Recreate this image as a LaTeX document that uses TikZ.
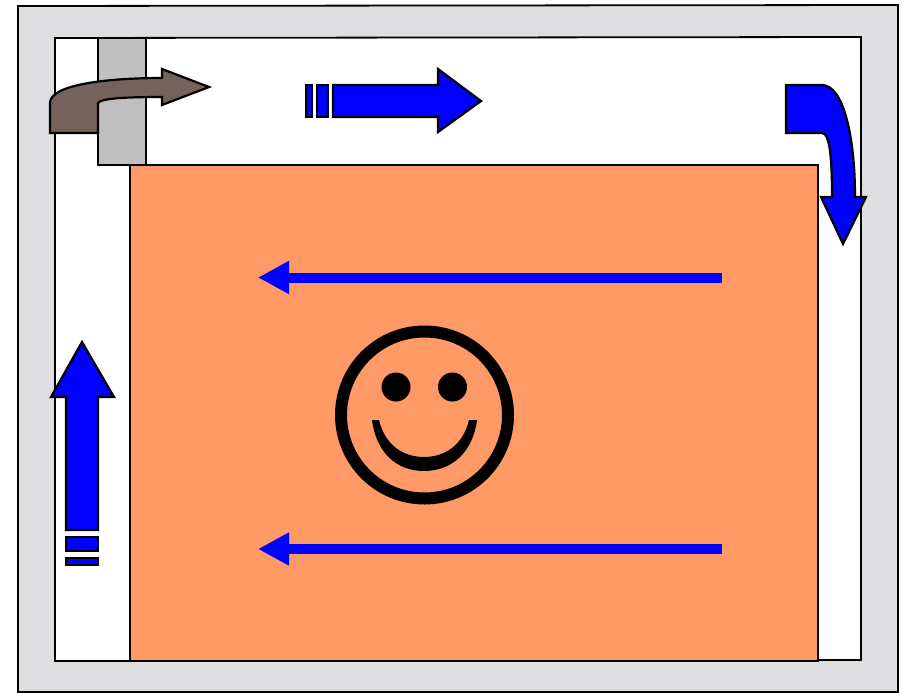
\documentclass[tikz,border=0pt]{standalone}
\usepackage{xcolor}
\usepackage{tikz}
\usetikzlibrary{arrows.meta}
\definecolor{frame}{HTML}{DEDEE1}
\definecolor{post}{HTML}{C0C0C0}
\definecolor{room}{HTML}{FF9966}
\definecolor{door}{HTML}{75625A}
\definecolor{flow}{HTML}{0000FF}
\tikzset{
  plate/.style={draw=black, line width=1.8pt, line join=miter},
  flowpart/.style={plate, line width=2.2pt, fill=flow},
  longflow/.style={-{Triangle[length=31pt,width=31pt]}, line width=10pt, flow},
}

\begin{document}
\begin{tikzpicture}[x=1pt,y=-1pt]
\useasboundingbox (0,0) rectangle (902,693);

% --- Walls ---
\draw[plate, fill=frame] (18,6) -- (898,5) -- (898,692) -- (18,692) -- cycle;
\draw[plate, fill=white] (55,38) -- (861,37) -- (861,660) -- (55,661) -- cycle;
\draw[plate, fill=post] (98,38) rectangle (146,165);
\draw[plate, fill=room] (130,165) rectangle (818,661);

% Brown arrow through the post
\draw[flowpart, fill=door] (50,133) -- (98,133) -- (98,103)
  .. controls (101,98) and (130,97) .. (162,97)
  -- (162,105) -- (209,87) -- (162,69) -- (162,78)
  .. controls (110,78) and (50,84) .. (50,103) -- cycle;

% Top arrow with dashes
\draw[flowpart] (306,85) rectangle (312,117);
\draw[flowpart] (317,85) rectangle (328,117);
\draw[flowpart] (333,85) -- (438,85) -- (438,69) -- (481,101)
  -- (438,132) -- (438,117) -- (333,117) -- cycle;

% Bent arrow, right side
\draw[flowpart] (786,85) -- (822,85)
  .. controls (843,85) and (855,135) .. (855,197)
  -- (866,197) -- (843,244) -- (821,197) -- (832,197)
  .. controls (832,160) and (830,133) .. (822,133)
  -- (786,133) -- cycle;

% Left arrow with dashes
\draw[flowpart] (82,342) -- (114,397) -- (98,397) -- (98,530)
  -- (66,530) -- (66,397) -- (51,397) -- cycle;
\draw[flowpart] (66,537) rectangle (98,551);
\draw[flowpart] (66,558) rectangle (98,565);

% --- Long arrows across the room ---
\coordinate (upperstart) at (722,277.5);
\coordinate (upperend) at (258,277.5);
\coordinate (lowerstart) at (722,549);
\coordinate (lowerend) at (258,549);
\draw[longflow] (upperstart) -- (upperend);
\draw[longflow] (lowerstart) -- (lowerend);

% --- Smiley ---
\draw[black, line width=12pt] (424.5,415) circle (83.5);
\fill[black] (396,387) circle (14.5);
\fill[black] (452.5,387) circle (14.5);
\fill[black] (372,420) -- (379,420)
  .. controls (385,445) and (403,457) .. (424,457)
  .. controls (445,457) and (463,445) .. (469,420)
  -- (477,420)
  .. controls (473,452) and (452,471) .. (424,471)
  .. controls (396,471) and (376,452) .. (372,420) -- cycle;
\end{tikzpicture}
\end{document}
